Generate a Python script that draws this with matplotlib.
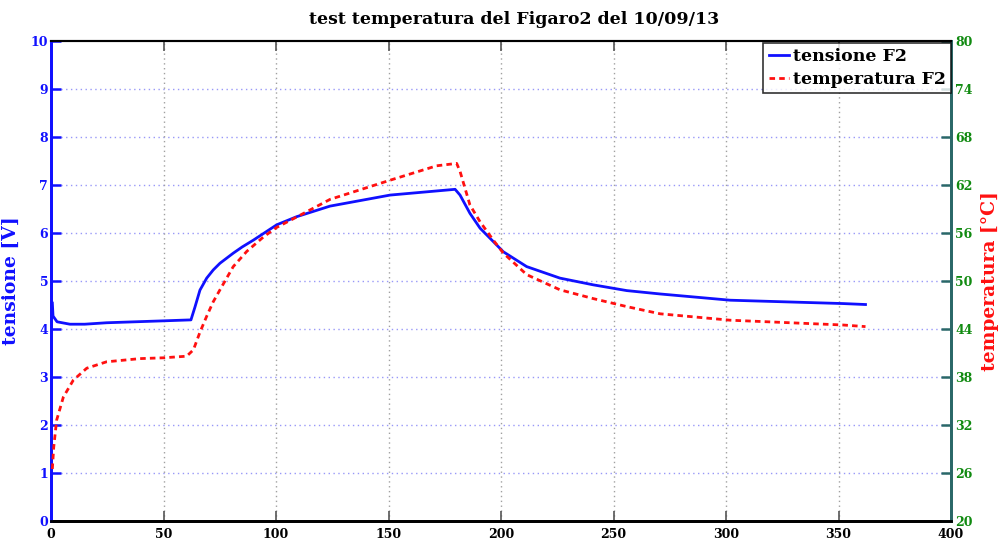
import matplotlib
matplotlib.use("Agg")
import matplotlib.pyplot as plt
from matplotlib.lines import Line2D

# ---- data ----
t_v = [0.6, 0.9, 2.7, 8.4, 15, 24.7, 50, 62.2, 64, 66.2, 69.2, 72.1, 75.1, 81, 85,
       89.9, 100.3, 109.2, 124, 150.7, 179.6, 181.8, 186.2, 190.7, 196.6, 201, 211.4,
       226.2, 241, 255.9, 270.7, 301.8, 352, 362]
tensione = [4.54, 4.27, 4.15, 4.10, 4.10, 4.13, 4.17, 4.19, 4.46, 4.81, 5.06, 5.23,
            5.37, 5.58, 5.71, 5.85, 6.17, 6.34, 6.56, 6.79, 6.91, 6.79, 6.41, 6.10,
            5.82, 5.61, 5.30, 5.06, 4.92, 4.80, 4.73, 4.60, 4.53, 4.51]

t_T = [0.6, 1.2, 2.5, 5.5, 9.9, 15.9, 24.7, 39.6, 50, 60.3, 63.3, 66.2, 69.2, 72.1,
       75.1, 81, 87, 94.4, 100.3, 109.2, 124, 150.7, 171.4, 180.3, 181.8, 186.2, 190.7,
       196.6, 201, 211.4, 226.2, 241, 255.9, 270.7, 301.8, 352, 362]
temperatura = [26.5, 29.2, 32.6, 35.5, 37.6, 39.1, 39.9, 40.3, 40.4, 40.6, 41.4, 43.6,
               45.6, 47.4, 48.9, 51.8, 53.7, 55.5, 56.7, 58.0, 60.2, 62.6, 64.4, 64.7,
               63.7, 59.5, 57.4, 55.1, 53.5, 50.8, 48.9, 47.8, 46.8, 45.9, 45.1, 44.5,
               44.3]

xticks = [0, 50, 100, 150, 200, 250, 300, 350, 400]
yticks_left = list(range(0, 11))
yticks_right = [20, 26, 32, 38, 44, 50, 56, 62, 68, 74, 80]

BLUE = "#1010ff"
RED = "#ff1010"
GREEN = "#108a10"
TEAL = "#2a6868"
SERIF = ["DejaVu Serif"]

fig = plt.figure(figsize=(9.98, 5.43), dpi=100)
ax = fig.add_axes([51/998, 1-521/543, 900/998, 480/543])
ax2 = ax.twinx()

ax.plot(t_v, tensione, color=BLUE, lw=2.0, zorder=3)
ax2.plot(t_T, temperatura, color=RED, lw=2.0, ls=(0, (2.0, 1.5)), zorder=3)

ax.set_xlim(0, 400)
ax.set_ylim(0, 10)
ax2.set_ylim(20, 80)
ax.set_xticks(xticks)
ax.set_yticks(yticks_left)
ax2.set_yticks(yticks_right)

# grids
for yv in yticks_left[1:-1]:
    ax.axhline(yv, color="#9898f8", lw=1.0, ls=(0, (1, 2.5)), zorder=1)
for xv in xticks[1:-1]:
    ax.axvline(xv, color="#a0a0a0", lw=1.0, ls=(0, (1, 2.5)), zorder=1)

ax.tick_params(axis="y", direction="in", length=7, width=1.8, colors=BLUE,
               labelsize=9, pad=2)
ax.tick_params(axis="x", direction="in", length=7, width=1.2, colors="#555555",
               labelcolor="black", labelsize=9, pad=5)
ax.tick_params(axis="x", which="both", top=True)
ax2.tick_params(axis="y", direction="in", length=7, width=1.8, colors=TEAL,
                labelcolor=GREEN, labelsize=9, pad=3)

for lab in ax.get_xticklabels() + ax.get_yticklabels() + ax2.get_yticklabels():
    lab.set_fontweight("bold")
    lab.set_family(SERIF)

for a in (ax, ax2):
    a.spines["left"].set_color(BLUE)
    a.spines["left"].set_linewidth(2)
    a.spines["right"].set_color(TEAL)
    a.spines["right"].set_linewidth(2)
    a.spines["bottom"].set_color("black")
    a.spines["bottom"].set_linewidth(2)
    a.spines["top"].set_color("black")
    a.spines["top"].set_linewidth(1.5)

ax.set_ylabel("tensione [V]", color=BLUE, fontsize=13.5, fontweight="bold",
              family=SERIF, labelpad=8)
ax2.set_ylabel("temperatura [°C]", color=RED, fontsize=13.5, fontweight="bold",
               family=SERIF, labelpad=6)
ax.set_title("test temperatura del Figaro2 del 10/09/13", fontsize=12.5,
             fontweight="bold", family=SERIF, pad=12, x=0.515)

handles = [Line2D([], [], color=BLUE, lw=2.0),
           Line2D([], [], color=RED, lw=2.0, ls=(0, (2.0, 1.5)))]
leg = ax2.legend(handles, ["tensione F2", "temperatura F2"], loc="upper right",
                 bbox_to_anchor=(1.0, 0.996), frameon=True, fancybox=False,
                 edgecolor="black", handlelength=1.2, handletextpad=0.2,
                 borderpad=0.3, labelspacing=0.35, borderaxespad=0.0,
                 prop={"family": SERIF, "weight": "bold", "size": 12.5})
leg.get_frame().set_linewidth(1.2)

fig.savefig("out.png", dpi=100)
